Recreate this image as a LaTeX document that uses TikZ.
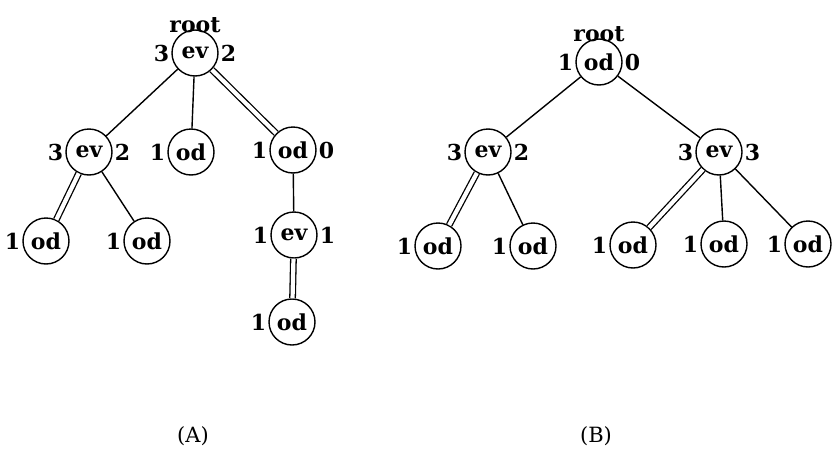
\documentclass[tikz,border=0pt]{standalone}
\usepackage{fontspec}
\setmainfont{DejaVu Serif}
\begin{document}
\begin{tikzpicture}[x=1pt,y=-1pt,
  every node/.style={font=\bfseries\fontsize{22}{22}\selectfont},
  vtx/.style={circle,draw,line width=1.4pt,minimum size=46pt,inner sep=0pt},
  lab/.style={inner sep=1pt},
  edge/.style={line width=1.4pt},
  dedge/.style={line width=1.3pt,double,double distance=4.2pt},
  lbl/.style={label distance=1pt}]
\useasboundingbox (0,0) rectangle (833,450);
% Tree A
\node[vtx,label={[lab,label distance=-5pt]above:root},
  label={[lab,lbl]left:3},label={[lab,lbl]right:2}] (ar) at (195,53) {ev};
\node[vtx,label={[lab,lbl]left:3},label={[lab,lbl]right:2}] (a1) at (89,152) {ev};
\node[vtx,label={[lab,lbl]left:1}] (a2) at (191,152) {od};
\node[vtx,label={[lab,lbl]left:1},label={[lab,lbl]right:0}] (a3) at (293,150) {od};
\node[vtx,label={[lab,lbl]left:1}] (a11) at (46,241) {od};
\node[vtx,label={[lab,lbl]left:1}] (a12) at (147,241) {od};
\node[vtx,label={[lab,lbl]left:1},label={[lab,lbl]right:1}] (a31) at (294,235) {ev};
\node[vtx,label={[lab,lbl]left:1}] (a311) at (292,322) {od};
\draw[edge] (ar) -- (a1);
\draw[edge] (ar) -- (a2);
\draw[dedge] (ar) -- (a3);
\draw[dedge] (a1) -- (a11);
\draw[edge] (a1) -- (a12);
\draw[edge] (a3) -- (a31);
\draw[dedge] (a31) -- (a311);
% Tree B
\node[vtx,label={[lab,label distance=-5pt]above:root},
  label={[lab,lbl]left:1},label={[lab,lbl]right:0}] (br) at (599,62) {od};
\node[vtx,label={[lab,lbl]left:3},label={[lab,lbl]right:2}] (b1) at (488,152) {ev};
\node[vtx,label={[lab,lbl]left:3},label={[lab,lbl]right:3}] (b2) at (719,152) {ev};
\node[vtx,label={[lab,lbl]left:1}] (b11) at (438,246) {od};
\node[vtx,label={[lab,lbl]left:1}] (b12) at (533,246) {od};
\node[vtx,label={[lab,lbl]left:1}] (b21) at (633,245) {od};
\node[vtx,label={[lab,lbl]left:1}] (b22) at (724,244) {od};
\node[vtx,label={[lab,lbl]left:1}] (b23) at (808,244) {od};
\draw[edge] (br) -- (b1);
\draw[edge] (br) -- (b2);
\draw[dedge] (b1) -- (b11);
\draw[edge] (b1) -- (b12);
\draw[dedge] (b2) -- (b21);
\draw[edge] (b2) -- (b22);
\draw[edge] (b2) -- (b23);
% captions
\node[font=\fontsize{21}{21}\selectfont] (capA) at (193,436) {(A)};
\node[font=\fontsize{21}{21}\selectfont] (capB) at (596,436) {(B)};
\end{tikzpicture}
\end{document}
